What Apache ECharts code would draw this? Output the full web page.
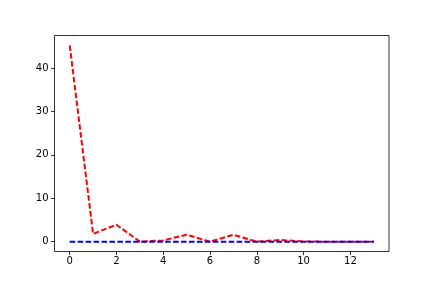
<!DOCTYPE html>
<html><head><meta charset="utf-8">
<script src="https://cdn.jsdelivr.net/npm/echarts@6/dist/echarts.min.js"></script>
<style>html,body{margin:0;padding:0;background:#fff}#c{width:432px;height:288px}</style>
</head><body><div id="c"></div>
<script>
const xValues = [0,1,2,3,4,5,6,7,8,9,10,11,12,13];
const redValues = [45.2,1.8,3.9,0,0.3,1.6,0,1.6,0,0.4,0.05,0,0,0];
const blueValues = [0,0,0,0,0,0,0,0,0,0,0,0,0,0];
const xTicks = [0,2,4,6,8,10,12];
const yTicks = [0,10,20,30,40];

const chart = echarts.init(document.getElementById('c'), null, {renderer:'canvas'});
const font = {fontFamily:'DejaVu Sans', fontSize:10, color:'#000'};
chart.setOption({
  animation:false,
  grid:{left:54.5,right:43,top:35.5,bottom:36.5,show:true,borderColor:'#000',borderWidth:0.8,backgroundColor:'#fff'},
  xAxis:{type:'value',min:-0.65,max:13.65,
    axisLine:{show:false,onZero:false},
    splitLine:{show:false},
    axisTick:{show:true,inside:false,length:3.5,lineStyle:{color:'#000',width:0.8},customValues:xTicks},
    axisLabel:Object.assign({show:true,margin:5,customValues:xTicks},font)},
  yAxis:{type:'value',min:-2.26,max:47.46,
    axisLine:{show:false,onZero:false},
    splitLine:{show:false},
    axisTick:{show:true,inside:false,length:3.5,lineStyle:{color:'#000',width:0.8},customValues:yTicks},
    axisLabel:Object.assign({show:true,margin:6,customValues:yTicks},font)},
  series:[
    {type:'line',data:xValues.map((x,i)=>[x,redValues[i]]),showSymbol:false,
     lineStyle:{color:'#ff0000',width:2,type:[5.55,2.4]},z:2},
    {type:'line',data:xValues.map((x,i)=>[x,blueValues[i]]),showSymbol:false,
     lineStyle:{color:'#0000ff',width:2,type:[5.55,2.4]},z:3}
  ]
});
</script></body></html>
